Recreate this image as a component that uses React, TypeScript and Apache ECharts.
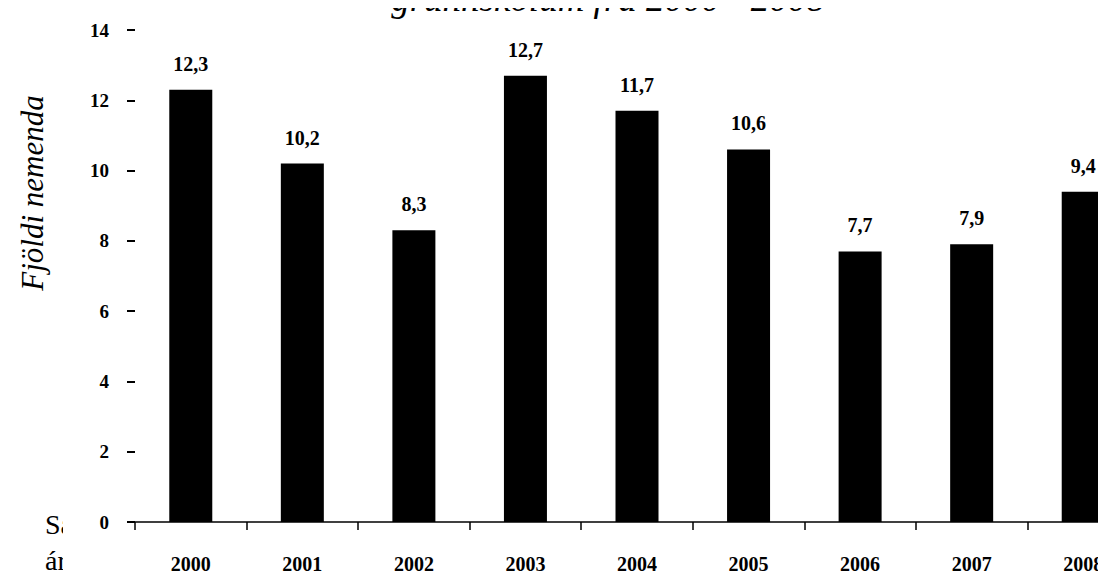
import React, { useEffect, useRef } from "react";
import * as echarts from "echarts";

const years = ["2000", "2001", "2002", "2003", "2004", "2005", "2006", "2007", "2008"];
const values = [12.3, 10.2, 8.3, 12.7, 11.7, 10.6, 7.7, 7.9, 9.4];
const yTicks = { min: 0, max: 14, interval: 2 };
const titleText = "grunnskólum frá 2000 - 2008";
const yName = "Fjöldi nemenda";

export default function App() {
  const ref = useRef<HTMLDivElement>(null);
  useEffect(() => {
    if (!ref.current) return;
    const chart = echarts.init(ref.current, undefined, { renderer: "svg" });
    const serif = "Liberation Serif";
    chart.setOption({
      animation: false,
      backgroundColor: "#ffffff",
      grid: { left: 135, right: 0, top: 30, bottom: 57 },
      xAxis: {
        type: "category",
        data: years,
        axisLine: { show: true, lineStyle: { color: "#000", width: 1.5 } },
        axisTick: { show: true, length: 8, lineStyle: { color: "#000", width: 1.5 } },
        axisLabel: {
          color: "#000",
          fontFamily: serif,
          fontWeight: "bold",
          fontSize: 20,
          margin: 32,
        },
      },
      yAxis: {
        type: "value",
        min: yTicks.min,
        max: yTicks.max,
        interval: yTicks.interval,
        splitLine: { show: false },
        axisLine: { show: false },
        axisTick: { show: true, length: 8, lineStyle: { color: "#000", width: 2 } },
        axisLabel: {
          color: "#000",
          fontFamily: serif,
          fontWeight: "bold",
          fontSize: 19,
          margin: 26,
        },
      },
      series: [
        {
          type: "bar",
          data: values,
          barWidth: 43,
          itemStyle: { color: "#000" },
          label: {
            show: true,
            position: "top",
            distance: 16,
            color: "#000",
            fontFamily: serif,
            fontWeight: "bold",
            fontSize: 20,
            formatter: (p: any) => String(p.value).replace(".", ","),
          },
        },
      ],
      graphic: [
        {
          type: "text",
          x: 608,
          y: 17,
          style: {
            text: titleText,
            fill: "#000",
            font: "italic 37px 'Liberation Serif'",
            align: "center",
            verticalAlign: "bottom",
          },
        },
        {
          type: "text",
          x: 32,
          y: 193,
          rotation: Math.PI / 2,
          style: {
            text: yName,
            fill: "#000",
            font: "italic 31px 'Liberation Serif'",
            align: "center",
            verticalAlign: "middle",
          },
        },
        {
          type: "text",
          x: 45,
          y: 524,
          style: {
            text: "Sa",
            fill: "#000",
            font: "28px 'Liberation Serif'",
            align: "left",
            verticalAlign: "middle",
          },
        },
        {
          type: "text",
          x: 45,
          y: 560,
          style: {
            text: "ár",
            fill: "#000",
            font: "28px 'Liberation Serif'",
            align: "left",
            verticalAlign: "middle",
          },
        },
        {
          type: "rect",
          shape: { x: 63, y: 500, width: 20, height: 79 },
          style: { fill: "#fff" },
        },
      ],
    });
    return () => chart.dispose();
  }, []);
  return (
    <div style={{ width: 1106, height: 579, overflow: "hidden", margin: -8 }}>
      <div ref={ref} style={{ width: 1139, height: 579 }} />
    </div>
  );
}
